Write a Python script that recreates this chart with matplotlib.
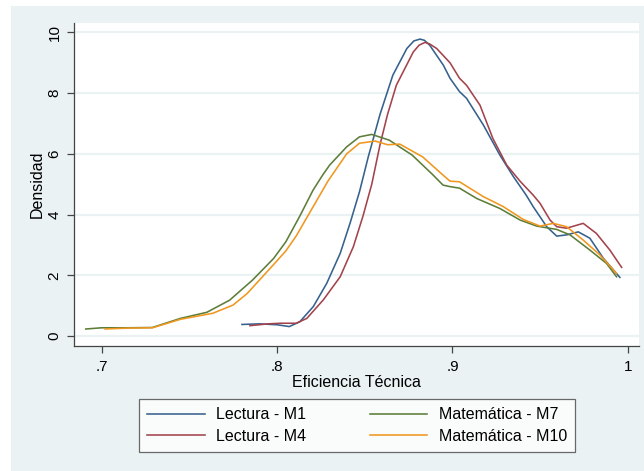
import matplotlib
matplotlib.use("Agg")
import matplotlib.pyplot as plt
from matplotlib.patches import Rectangle

plt.rcParams['font.family'] = ['Liberation Sans', 'DejaVu Sans']

# ---- data ----
m1_x = [0.780, 0.790, 0.800, 0.807, 0.813, 0.8207, 0.8283, 0.836, 0.8416, 0.847, 0.852,
        0.8587, 0.866, 0.874, 0.878, 0.8815, 0.884, 0.887, 0.8948, 0.8986, 0.904, 0.908,
        0.9176, 0.927, 0.9347, 0.942, 0.946, 0.9537, 0.9594, 0.965, 0.9717, 0.9783,
        0.986, 0.9954]
m1_y = [0.38, 0.40, 0.37, 0.31, 0.47, 0.97, 1.73, 2.72, 3.71, 4.75, 5.90,
        7.30, 8.59, 9.47, 9.72, 9.78, 9.74, 9.58, 8.92, 8.49, 8.05, 7.83,
        6.95, 5.96, 5.25, 4.64, 4.26, 3.60, 3.29, 3.33, 3.43, 3.22,
        2.56, 1.93]

m4_x = [0.7846, 0.795, 0.802, 0.811, 0.817, 0.8264, 0.836, 0.8435, 0.849, 0.854,
        0.8587, 0.863, 0.868, 0.8777, 0.881, 0.8843, 0.887, 0.891, 0.8986, 0.904, 0.908,
        0.9157, 0.923, 0.9309, 0.9385, 0.946, 0.9499, 0.9556, 0.9594, 0.965, 0.9745,
        0.982, 0.9897, 0.9964]
m4_y = [0.34, 0.40, 0.42, 0.42, 0.58, 1.19, 1.95, 2.94, 3.95, 5.00,
        6.30, 7.30, 8.26, 9.36, 9.58, 9.67, 9.62, 9.47, 9.00, 8.49, 8.26,
        7.60, 6.51, 5.63, 5.10, 4.64, 4.37, 3.82, 3.60, 3.55, 3.71,
        3.38, 2.83, 2.26]

m7_x = [0.691, 0.700, 0.715, 0.729, 0.745, 0.760, 0.773, 0.786, 0.798, 0.805,
        0.813, 0.8205, 0.826, 0.830, 0.8397, 0.847, 0.854, 0.864, 0.877, 0.889,
        0.8946, 0.8986, 0.904, 0.9138, 0.927, 0.9385, 0.948, 0.9594, 0.967, 0.9783,
        0.9878, 0.9935]
m7_y = [0.23, 0.27, 0.27, 0.28, 0.58, 0.78, 1.18, 1.84, 2.55, 3.10,
        3.95, 4.80, 5.30, 5.63, 6.23, 6.56, 6.64, 6.45, 5.96, 5.30,
        4.97, 4.92, 4.87, 4.53, 4.20, 3.82, 3.62, 3.51, 3.33, 2.83,
        2.39, 1.95]

m10_x = [0.702, 0.715, 0.729, 0.745, 0.7635, 0.775, 0.783, 0.798, 0.805, 0.811,
         0.8205, 0.829, 0.8397, 0.847, 0.856, 0.863, 0.870, 0.883, 0.8946,
         0.8986, 0.904, 0.9176, 0.929, 0.9403, 0.9499, 0.9575, 0.965, 0.9745, 0.984, 0.9935]
m10_y = [0.23, 0.26, 0.27, 0.55, 0.75, 1.02, 1.40, 2.35, 2.80, 3.30,
         4.25, 5.10, 6.00, 6.35, 6.42, 6.30, 6.32, 5.90, 5.30,
         5.10, 5.08, 4.59, 4.26, 3.84, 3.62, 3.71, 3.60, 3.16, 2.67, 2.06]

labels = ["Lectura - M1", "Lectura - M4", "Matemática - M7", "Matemática - M10"]
colors = ["#36618d", "#a3434c", "#5d7d38", "#f0971f"]
x_ticks = [0.7, 0.8, 0.9, 1.0]
x_tick_labels = [".7", ".8", ".9", "1"]
y_ticks = [0, 2, 4, 6, 8, 10]

W, H = 644, 471
fig = plt.figure(figsize=(W / 100, H / 100), dpi=100)
fig.patch.set_facecolor("white")
bg = "#eaf2f3"
fig.patches.append(Rectangle((11 / W, 0), 1 - 11 / W, 1 - 6 / H, transform=fig.transFigure,
                             facecolor=bg, edgecolor="none", zorder=-10))

ax = fig.add_axes([74 / W, 1 - 345.7 / H, (639 - 74) / W, (345.7 - 22.7) / H])
ax.set_facecolor("white")

series = [(m1_x, m1_y), (m4_x, m4_y), (m7_x, m7_y), (m10_x, m10_y)]
handles = []
for (xs, ys), lab, c in zip(series, labels, colors):
    h, = ax.plot(xs, ys, color=c, lw=1.15, label=lab, solid_joinstyle="round")
    handles.append(h)

ax.set_xlim(0.6843, 1.0063)
ax.set_ylim(-0.32, 10.32)
ax.set_xticks(x_ticks)
ax.set_xticklabels(x_tick_labels)
ax.set_yticks(y_ticks)
ax.set_yticklabels([str(v) for v in y_ticks], rotation=90, va="center")
ax.yaxis.grid(True, color=bg, lw=1.6)
ax.set_axisbelow(True)
for s in ["top", "right"]:
    ax.spines[s].set_visible(False)
for s in ["left", "bottom"]:
    ax.spines[s].set_color("#444444")
    ax.spines[s].set_linewidth(0.9)
ax.tick_params(axis="both", colors="#444444", length=5, width=0.9, labelsize=11,
               labelcolor="black")
ax.tick_params(axis="x", pad=5)
ax.tick_params(axis="y", pad=4)
ax.set_xlabel("Eficiencia Técnica", fontsize=11.5, labelpad=1)
ax.set_ylabel("Densidad", fontsize=11.5, labelpad=2)

leg = fig.legend(handles=handles, labels=labels, ncol=2, loc="center",
                 bbox_to_anchor=(357 / W, 1 - 425.5 / H), fontsize=11.5,
                 frameon=True, fancybox=False, handlelength=3.6, handletextpad=0.7,
                 columnspacing=4.0, borderpad=0.5, labelspacing=0.4)
leg.get_frame().set_edgecolor("#444444")
leg.get_frame().set_linewidth(0.9)

fig.savefig("out.png", dpi=100, facecolor=fig.get_facecolor())
